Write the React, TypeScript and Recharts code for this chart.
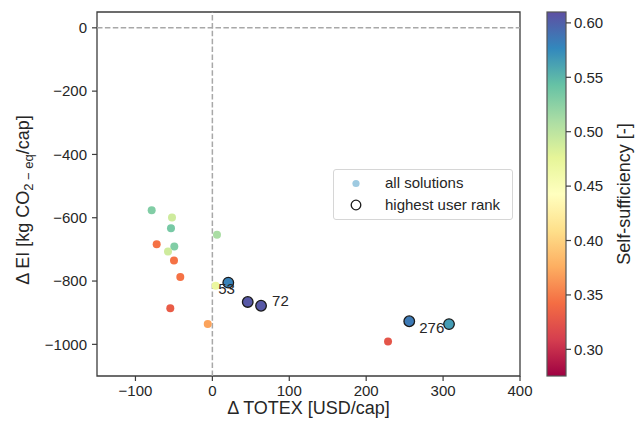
import React from "react";
import {
  ScatterChart,
  Scatter,
  XAxis,
  YAxis,
  ReferenceLine,
  ReferenceArea,
  Legend,
} from "recharts";

// ---- data -------------------------------------------------------------
// all solutions (small dots)
const totexAll = [-78.9, -52.5, -53.8, 6.0, -72.4, -49.5, -57.7, -49.9, -41.7, 4.3, -54.7, -6.0, 228.4];
const eiAll = [-576, -599, -633, -654, -684, -691, -707, -735, -787, -815, -886, -936, -991];
const ssAll = [0.53, 0.49, 0.535, 0.51, 0.345, 0.53, 0.49, 0.345, 0.345, 0.47, 0.33, 0.37, 0.325];

// highest user rank solutions (outlined dots)
const totexTop = [20.7, 46.0, 63.3, 256.0, 307.7];
const eiTop = [-805, -866, -878, -927, -936];
const ssTop = [0.58, 0.605, 0.605, 0.585, 0.565];
const rankTop = ["53", "", "72", "276", ""];

// axis ticks
const xTicks = [-100, 0, 100, 200, 300, 400];
const yTicks = [-1000, -800, -600, -400, -200, 0];
const cbTicks = [0.3, 0.35, 0.4, 0.45, 0.5, 0.55, 0.6];

const X_DOMAIN: [number, number] = [-150, 400];
const Y_DOMAIN: [number, number] = [-1100, 50];
const CB_DOMAIN: [number, number] = [0.2755, 0.61];

// ---- styling ----------------------------------------------------------
const FONT = "'Liberation Sans', Arial, Helvetica, sans-serif";
const INK = "#262626";
const SPINE = "#3c3c3c";

const SPECTRAL = [
  "#9e0142", "#d53e4f", "#f46d43", "#fdae61", "#fee08b", "#ffffbf",
  "#e6f598", "#abdda4", "#66c2a5", "#3288bd", "#5e4fa2",
];

function hexToRgb(h: string) {
  const n = parseInt(h.slice(1), 16);
  return [(n >> 16) & 255, (n >> 8) & 255, n & 255];
}

function spectral(v: number) {
  let t = (v - CB_DOMAIN[0]) / (CB_DOMAIN[1] - CB_DOMAIN[0]);
  t = Math.max(0, Math.min(1, t));
  const p = t * 10;
  const i = Math.min(9, Math.floor(p));
  const f = p - i;
  const a = hexToRgb(SPECTRAL[i]);
  const b = hexToRgb(SPECTRAL[i + 1]);
  const c = a.map((ai, k) => Math.round(ai + (b[k] - ai) * f));
  return `rgb(${c[0]},${c[1]},${c[2]})`;
}

const allData = totexAll.map((x, i) => ({ totex: x, ei: eiAll[i], ss: ssAll[i] }));
const topData = totexTop.map((x, i) => ({ totex: x, ei: eiTop[i], ss: ssTop[i], rank: rankTop[i] }));

// where each rank label sits relative to its point
const RANK_OFFSET: Record<string, [number, number]> = {
  "53": [-10, 11],
  "72": [11, 0],
  "276": [10, 12],
};

const fmtMinus = (v: number) => (v < 0 ? "\u2212" + Math.abs(v) : String(v));

const SmallDot = (props: any) => {
  const { cx, cy, payload } = props;
  if (cx == null || cy == null) return null;
  return <circle cx={cx} cy={cy} r={4} fill={spectral(payload.ss)} />;
};

const RankDot = (props: any) => {
  const { cx, cy, payload } = props;
  if (cx == null || cy == null) return null;
  const off = RANK_OFFSET[payload.rank];
  return (
    <g>
      <circle cx={cx} cy={cy} r={5.3} fill={spectral(payload.ss)} stroke="#1a1a1a" strokeWidth={1.3} />
      {payload.rank && off ? (
        <text x={cx + off[0]} y={cy + off[1]} fontFamily={FONT} fontSize={15} fill={INK}>
          {payload.rank}
        </text>
      ) : null}
    </g>
  );
};

const ColorbarTick = (props: any) => {
  const { x, y, payload } = props;
  return (
    <g>
      <line x1={x + 46} x2={x + 51} y1={y} y2={y} stroke={SPINE} strokeWidth={1.2} />
      <text x={x + 54} y={y + 5.3} fontFamily={FONT} fontSize={15} fill={INK}>
        {Number(payload.value).toFixed(2)}
      </text>
    </g>
  );
};

const ColorbarBody = (props: any) => {
  const vb = props.viewBox || {};
  const x0 = vb.x + 27;
  const cyTitle = vb.y + vb.height / 2;
  const tx = vb.x + 110;
  return (
    <g>
      <defs>
        <linearGradient id="spectralBar" x1="0" y1="1" x2="0" y2="0">
          {SPECTRAL.map((c, i) => (
            <stop key={i} offset={`${i * 10}%`} stopColor={c} />
          ))}
        </linearGradient>
      </defs>
      <rect x={x0} y={vb.y} width={19} height={vb.height} fill="url(#spectralBar)" stroke="#555" strokeWidth={1.2} />
      <text
        x={tx}
        y={cyTitle}
        transform={`rotate(-90, ${tx}, ${cyTitle})`}
        textAnchor="middle"
        fontFamily={FONT}
        fontSize={18}
        fill={INK}
      >
        Self-sufficiency [-]
      </text>
    </g>
  );
};

const XTitle = (props: any) => {
  const vb = props.viewBox || {};
  return (
    <text x={vb.x + vb.width / 2} y={vb.y + 38} textAnchor="middle" fontFamily={FONT} fontSize={18} fill={INK}>
      {"\u0394 TOTEX [USD/cap]"}
    </text>
  );
};

const YTitle = (props: any) => {
  const vb = props.viewBox || {};
  const tx = 29;
  const ty = vb.y + vb.height / 2 + 6;
  return (
    <text
      x={tx}
      y={ty}
      transform={`rotate(-90, ${tx}, ${ty})`}
      textAnchor="middle"
      fontFamily={FONT}
      fontSize={18}
      fill={INK}
    >
      <tspan>{"\u0394 EI [kg CO"}</tspan>
      <tspan dy={4} fontSize={13}>{"2 \u2212 eq"}</tspan>
      <tspan dy={-4}>{"/cap]"}</tspan>
    </text>
  );
};

const LegendBox = () => (
  <div
    style={{
      width: 178,
      height: 49,
      border: "1px solid #d6d6d6",
      borderRadius: 3,
      background: "#fff",
      fontFamily: FONT,
      fontSize: 15,
      color: INK,
      position: "relative",
      boxSizing: "content-box",
    }}
  >
    <svg width={40} height={49} style={{ position: "absolute", left: 0, top: 0 }}>
      <circle cx={22} cy={13.5} r={3.6} fill="#9ecae1" />
      <circle cx={22} cy={35} r={4.8} fill="none" stroke="#1a1a1a" strokeWidth={1.3} />
    </svg>
    <div style={{ position: "absolute", left: 51, top: 4, lineHeight: "18px", whiteSpace: "nowrap" }}>all solutions</div>
    <div style={{ position: "absolute", left: 51, top: 26, lineHeight: "18px", whiteSpace: "nowrap" }}>highest user rank</div>
  </div>
);

export default function App() {
  return (
    <div style={{ position: "absolute", left: 0, top: 0, width: 635, height: 427, background: "#fff" }}>
      <ScatterChart width={635} height={427} margin={{ top: 12, right: 0, bottom: 0, left: 0 }}>
        <XAxis
          xAxisId="x"
          type="number"
          dataKey="totex"
          domain={X_DOMAIN}
          ticks={xTicks}
          allowDataOverflow
          height={51}
          axisLine={false}
          tickSize={5}
          tickMargin={4}
          tickLine={{ stroke: SPINE, strokeWidth: 1.2 }}
          tick={{ fill: INK, fontSize: 15, fontFamily: FONT }}
          tickFormatter={fmtMinus}
          label={<XTitle />}
        />
        <YAxis
          yAxisId="y"
          type="number"
          dataKey="ei"
          domain={Y_DOMAIN}
          ticks={yTicks}
          allowDataOverflow
          width={97}
          axisLine={false}
          tickSize={5}
          tickMargin={5}
          tickLine={{ stroke: SPINE, strokeWidth: 1.2 }}
          tick={{ fill: INK, fontSize: 15, fontFamily: FONT }}
          tickFormatter={fmtMinus}
          label={<YTitle />}
        />
        <YAxis
          yAxisId="cb"
          orientation="right"
          type="number"
          domain={CB_DOMAIN}
          ticks={cbTicks}
          allowDataOverflow
          width={115}
          axisLine={false}
          tickLine={false}
          tickSize={0}
          tickMargin={0}
          tick={<ColorbarTick />}
          label={<ColorbarBody />}
        />
        <ReferenceLine xAxisId="x" yAxisId="y" y={0} stroke="#a8a8a8" strokeWidth={1.5} strokeDasharray="5.5 2.4" />
        <ReferenceLine xAxisId="x" yAxisId="y" x={0} stroke="#a8a8a8" strokeWidth={1.5} strokeDasharray="5.5 2.4" />
        <ReferenceArea
          xAxisId="x"
          yAxisId="y"
          x1={X_DOMAIN[0]}
          x2={X_DOMAIN[1]}
          y1={Y_DOMAIN[0]}
          y2={Y_DOMAIN[1]}
          fill="none"
          fillOpacity={0}
          stroke={SPINE}
          strokeWidth={1.3}
        />
        <Scatter xAxisId="x" yAxisId="y" name="all solutions" data={allData} shape={<SmallDot />} isAnimationActive={false} />
        <Scatter xAxisId="x" yAxisId="y" name="highest user rank" data={topData} shape={<RankDot />} isAnimationActive={false} />
        <Legend
          layout="vertical"
          align="center"
          verticalAlign="middle"
          content={<LegendBox />}
          wrapperStyle={{ left: 333, top: 169, width: 180, height: 51 }}
        />
      </ScatterChart>
    </div>
  );
}
